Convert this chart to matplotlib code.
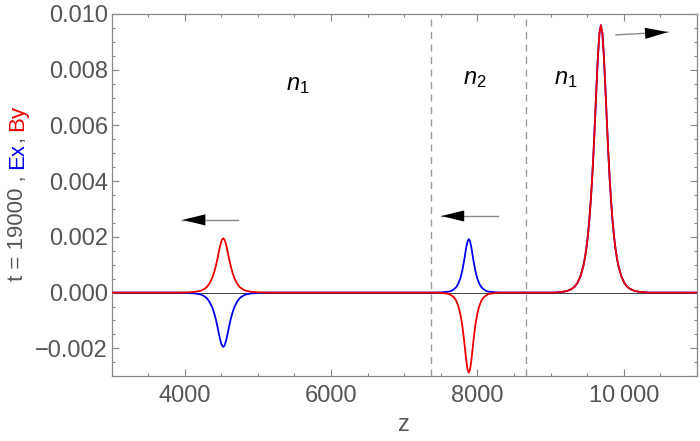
import numpy as np
import matplotlib
matplotlib.use('Agg')
import matplotlib.pyplot as plt
from matplotlib.ticker import MultipleLocator, FuncFormatter

plt.rcParams['font.family'] = ['Liberation Sans', 'DejaVu Sans']
plt.rcParams['mathtext.fontset'] = 'custom'
plt.rcParams['mathtext.it'] = 'Liberation Sans:italic'
plt.rcParams['mathtext.rm'] = 'Liberation Sans'

# pulses: centre z, offsets from centre, values (one side, symmetric)
left_z0 = 4527
left_dz = [0, 19, 38, 57, 76, 95, 114, 133, 152, 190, 228, 266, 304, 380, 494, 608]
left_by = [0.00195, 0.00189, 0.00173, 0.00151, 0.00126, 0.00103, 0.00083, 0.00066,
           0.00052, 0.00032, 0.00019, 0.00012, 0.00007, 0.00003, 0.00001, 0.0]
left_ex = [-0.00195, -0.00189, -0.00173, -0.00151, -0.00126, -0.00103, -0.00083, -0.00066,
           -0.00052, -0.00032, -0.00019, -0.00012, -0.00007, -0.00003, -0.00001, 0.0]

mid_z0 = 7882
mid_dz = [0, 15, 29, 44, 58, 73, 87, 102, 116, 145, 174, 203, 232, 261, 290, 377, 464]
mid_ex = [0.00192, 0.00186, 0.00170, 0.00148, 0.00124, 0.00102, 0.00082, 0.00065,
          0.00051, 0.00031, 0.00019, 0.00012, 0.00007, 0.00004, 0.00003, 0.00001, 0.0]
mid_by = [-0.00287, -0.00278, -0.00255, -0.00222, -0.00186, -0.00152, -0.00122, -0.00097,
          -0.00076, -0.00047, -0.00028, -0.00017, -0.00011, -0.00006, -0.00004, -0.00001, 0.0]

right_z0 = 9687
right_dz = [0, 20, 40, 60, 80, 100, 120, 140, 160, 180, 200, 220, 240, 280,
            320, 360, 400, 460, 520, 640]
right_ex = [0.00960, 0.00931, 0.00851, 0.00742, 0.00622, 0.00508, 0.00408, 0.00325,
            0.00255, 0.00200, 0.00157, 0.00122, 0.00095, 0.00058, 0.00035, 0.00021,
            0.00013, 0.00006, 0.00003, 0.0]
right_by = right_ex

z_range = [3000, 11000]
interfaces = [7367, 8667]

labels = [r'$n_1$', r'$n_2$', r'$n_1$']
label_z = [5551, 7959, 9211]
label_y = [0.00746, 0.00767, 0.00767]

# arrows: (tail z, tail y, tip z, tip y)
arrows = [(4735, 0.00261, 3969, 0.00261),
          (8276, 0.00275, 7506, 0.00275),
          (9895, 0.00925, 10603, 0.00935)]


def mirror(z0, dz, vals):
    dz = np.asarray(dz, float)
    vals = np.asarray(vals, float)
    z = z0 + np.r_[-dz[::-1], dz[1:]]
    v = np.r_[vals[::-1], vals[1:]]
    return z, v


def series(parts):
    zs = [np.array([z_range[0]])]
    vs = [np.array([0.0])]
    for z0, dz, vals in parts:
        z, v = mirror(z0, dz, vals)
        zs.append(z)
        vs.append(v)
    zs.append(np.array([z_range[1]]))
    vs.append(np.array([0.0]))
    return np.concatenate(zs), np.concatenate(vs)


z_ex, ex = series([(left_z0, left_dz, left_ex), (mid_z0, mid_dz, mid_ex),
                   (right_z0, right_dz, right_ex)])
z_by, by = series([(left_z0, left_dz, left_by), (mid_z0, mid_dz, mid_by),
                   (right_z0, right_dz, right_by)])

fig = plt.figure(figsize=(7, 4.41), dpi=100)
ax = fig.add_axes([111.5 / 700, 1 - 376.2 / 441, (697 - 111.5) / 700, (376.2 - 14) / 441])

ax.axhline(0, color='#444444', lw=0.7, zorder=1)
for zi in interfaces:
    ax.axvline(zi, color='#999999', lw=1.0, ls=(0, (5, 4)), zorder=1)

ax.plot(z_ex, ex, color='#0000ee', lw=1.3, zorder=2)
ax.plot(z_by, by, color='#ee0000', lw=1.3, zorder=3)

for txt, zx, yy in zip(labels, label_z, label_y):
    ax.text(zx, yy, txt, fontsize=17, ha='center', va='center', color='black')

for tz, ty, hz, hy in arrows:
    ax.plot([tz, hz], [ty, hy], color='#888888', lw=1.0, zorder=4)
    ax.annotate('', xy=(hz, hy), xytext=(tz, ty),
                arrowprops=dict(arrowstyle='-|>,head_length=1.65,head_width=0.4',
                                fc='black', ec='black', lw=0,
                                shrinkA=0, shrinkB=0, mutation_scale=10),
                zorder=5)

ax.set_xlim(z_range)
ax.set_ylim(-0.003, 0.010)
ax.xaxis.set_major_locator(MultipleLocator(2000))
ax.xaxis.set_minor_locator(MultipleLocator(500))
ax.yaxis.set_major_locator(MultipleLocator(0.002))
ax.yaxis.set_minor_locator(MultipleLocator(0.0005))


def xfmt(v, pos):
    s = f'{int(round(v))}'
    if len(s) > 4:
        s = s[:-3] + '\u2009' + s[-3:]
    return s


def yfmt(v, pos):
    if abs(v) < 1e-9:
        return '0.000'
    return f'{v:.3f}'.replace('-', '\u2212')


ax.xaxis.set_major_formatter(FuncFormatter(xfmt))
ax.yaxis.set_major_formatter(FuncFormatter(yfmt))

ax.tick_params(which='both', direction='in', top=True, right=True,
               color='#888888', labelcolor='#555555', labelsize=17, width=0.8)
ax.tick_params(which='major', length=5)
ax.tick_params(which='minor', length=2.5)
ax.tick_params(axis='x', pad=6)
ax.tick_params(axis='y', pad=2.5)
for sp in ax.spines.values():
    sp.set_color('#888888')
    sp.set_linewidth(0.9)

fig.text(404 / 700, 1 - 425 / 441, 'z', fontsize=17, color='#555555',
         ha='center', va='center')

# multi-coloured y label, stacked bottom to top
pieces = [('t = 19000 , ', '#555555'), ('Ex', '#0000ee'), (', ', '#555555'), ('By', '#ee0000')]
fig.canvas.draw()
renderer = fig.canvas.get_renderer()
y0 = 1 - 281 / 441
for txt, col in pieces:
    t = fig.text(23 / 700, y0, txt, fontsize=16, color=col, rotation=90,
                 rotation_mode='anchor', ha='left', va='baseline')
    bb = t.get_window_extent(renderer)
    y0 += bb.height / fig.bbox.height

fig.savefig('out.png', dpi=100)
